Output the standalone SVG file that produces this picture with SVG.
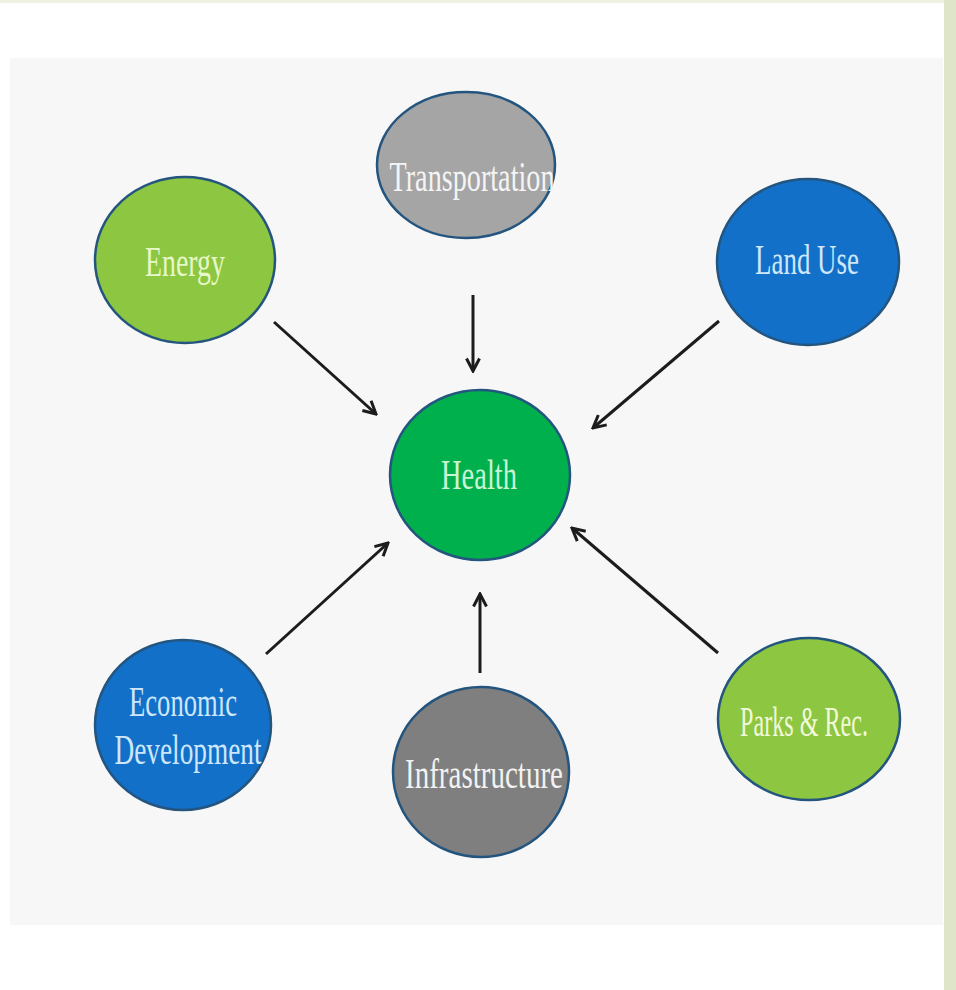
<svg xmlns="http://www.w3.org/2000/svg" width="956" height="990" viewBox="0 0 956 990">
  <style>
    .node { stroke: #24557f; stroke-width: 2.5; }
    .lbl { font-family: "Liberation Serif", "DejaVu Serif", serif; font-size: 42px; text-anchor: middle; }
    .edge { stroke: #1c1c1c; stroke-width: 3; fill: none; marker-end: url(#head); }
  </style>
  <defs>
    <marker id="head" viewBox="0 0 16 16" refX="14" refY="8" markerWidth="16" markerHeight="16" markerUnits="userSpaceOnUse" orient="auto">
      <path d="M1.5,1.5 L14,8 L1.5,14.5" fill="none" stroke="#1c1c1c" stroke-width="3" stroke-linejoin="miter"/>
    </marker>
  </defs>

  <!-- page background, panel and side strip -->
  <rect x="0" y="0" width="956" height="990" fill="#ffffff"/>
  <rect x="0" y="0" width="944" height="3" fill="#eef2e2"/>
  <rect x="10" y="58" width="933" height="867" fill="#f7f7f8"/>
  <rect x="944" y="0" width="12" height="990" fill="#dfe5c9"/>

  <!-- connectors -->
  <g id="connectors">
    <line class="edge" x1="473" y1="295" x2="473" y2="371"/>
    <line class="edge" x1="274" y1="322" x2="376" y2="414"/>
    <line class="edge" x1="719" y1="321" x2="593" y2="428"/>
    <line class="edge" x1="266" y1="654" x2="388" y2="543"/>
    <line class="edge" x1="480" y1="673" x2="480" y2="594"/>
    <line class="edge" x1="718" y1="653" x2="572" y2="528"/>
  </g>

  <g id="transportation">
    <ellipse class="node" cx="466" cy="165" rx="89" ry="73" fill="#a5a5a5"/>
    <text class="lbl" x="472" y="191" fill="#f4f4f4" textLength="165" lengthAdjust="spacingAndGlyphs">Transportation</text>
  </g>

  <g id="energy">
    <ellipse class="node" cx="185" cy="260" rx="90" ry="83" fill="#8dc640"/>
    <text class="lbl" x="185" y="276" fill="#e6f7c8" textLength="80" lengthAdjust="spacingAndGlyphs">Energy</text>
  </g>

  <g id="land-use">
    <ellipse class="node" cx="808" cy="262" rx="91" ry="83" fill="#1270c8"/>
    <text class="lbl" x="807" y="274" fill="#cde6fa" textLength="104" lengthAdjust="spacingAndGlyphs">Land Use</text>
  </g>

  <g id="health">
    <ellipse class="node" cx="480" cy="475" rx="90" ry="85" fill="#00b04c"/>
    <text class="lbl" x="479" y="489" fill="#c9f5d4" textLength="76" lengthAdjust="spacingAndGlyphs">Health</text>
  </g>

  <g id="economic-development">
    <ellipse class="node" cx="183" cy="725" rx="88" ry="85" fill="#1270c8"/>
    <text class="lbl" x="183" y="716" fill="#cde6fa" textLength="108" lengthAdjust="spacingAndGlyphs">Economic</text>
    <text class="lbl" x="188" y="764" fill="#cde6fa" textLength="147" lengthAdjust="spacingAndGlyphs">Development</text>
  </g>

  <g id="infrastructure">
    <ellipse class="node" cx="481" cy="772" rx="88" ry="85" fill="#7f7f7f"/>
    <text class="lbl" x="484" y="788" fill="#f2f2f2" textLength="158" lengthAdjust="spacingAndGlyphs">Infrastructure</text>
  </g>

  <g id="parks-rec">
    <ellipse class="node" cx="809" cy="719" rx="91" ry="81" fill="#8dc640"/>
    <text class="lbl" x="804" y="736" fill="#f1f9da" textLength="128" lengthAdjust="spacingAndGlyphs">Parks &amp; Rec.</text>
  </g>
</svg>
